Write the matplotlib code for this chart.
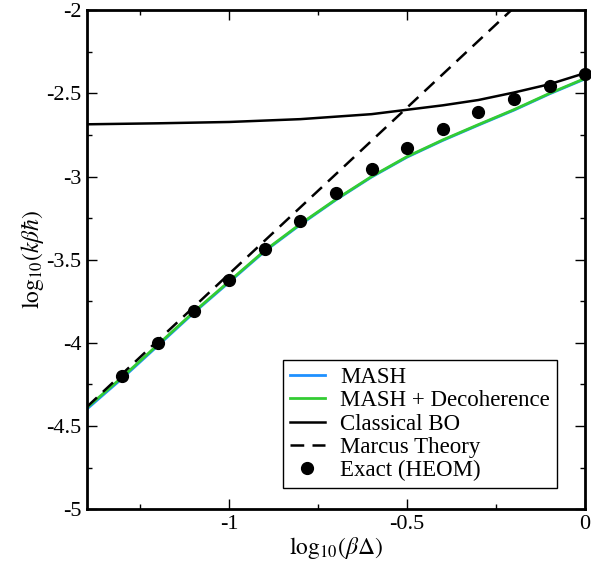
import matplotlib
matplotlib.use("Agg")
import matplotlib.pyplot as plt
from matplotlib.ticker import MultipleLocator, FormatStrFormatter

plt.rcParams['font.family'] = ['Liberation Serif', 'DejaVu Serif']
plt.rcParams['mathtext.fontset'] = 'stix'
plt.rcParams['axes.unicode_minus'] = False

# log10(beta*Delta) grid of the simulated curves
x_curve = [-1.4, -1.3, -1.2, -1.1, -1.0, -0.9, -0.8, -0.7, -0.6, -0.5,
           -0.4, -0.3, -0.2, -0.1, 0.0]
mash_deco = [-4.39, -4.205, -4.01, -3.815, -3.63, -3.445, -3.285, -3.137,
             -3.0, -2.88, -2.78, -2.688, -2.598, -2.50, -2.41]
mash = [-4.398, -4.212, -4.016, -3.82, -3.635, -3.449, -3.289, -3.14,
        -3.003, -2.883, -2.783, -2.691, -2.601, -2.503, -2.413]

x_bo = [-1.4, -1.2, -1.0, -0.8, -0.6, -0.4, -0.3, -0.2, -0.1, 0.0]
classical_bo = [-2.686, -2.68, -2.672, -2.655, -2.625, -2.572, -2.54,
                -2.495, -2.445, -2.378]

x_marcus = [-1.4, -0.15]
marcus = [-4.385, -1.885]

x_heom = [-1.3, -1.2, -1.1, -1.0, -0.9, -0.8, -0.7, -0.6, -0.5, -0.4,
          -0.3, -0.2, -0.1, 0.0]
heom = [-4.2, -4.0, -3.81, -3.624, -3.437, -3.27, -3.10, -2.956, -2.826,
        -2.716, -2.615, -2.535, -2.457, -2.381]

fig = plt.figure(figsize=(5.91, 5.67), dpi=100)
ax = fig.add_axes([0.147, 0.102, 0.843, 0.880])

ax.plot(x_curve, mash, color='#1e90ff', lw=2.0, label='MASH')
ax.plot(x_curve, mash_deco, color='#33cc33', lw=2.0, label='MASH + Decoherence')
ax.plot(x_bo, classical_bo, color='black', lw=1.8, label='Classical BO')
ax.plot(x_marcus, marcus, color='black', lw=1.8, linestyle=(0, (5.5, 3.3)),
        label='Marcus Theory')
ax.plot(x_heom, heom, 'o', color='black', ms=8.5, label='Exact (HEOM)',
        clip_on=False, zorder=5)

ax.set_xlim(-1.4, 0)
ax.set_ylim(-5, -2)
ax.xaxis.set_major_locator(MultipleLocator(0.5))
ax.xaxis.set_minor_locator(MultipleLocator(0.25))
ax.yaxis.set_major_locator(MultipleLocator(0.5))
ax.yaxis.set_minor_locator(MultipleLocator(0.25))
ax.xaxis.set_major_formatter(FormatStrFormatter('%g'))
ax.yaxis.set_major_formatter(FormatStrFormatter('%g'))

ax.tick_params(which='both', direction='in', top=True, right=True,
               labelsize=16, width=1.0, pad=4)
ax.tick_params(which='major', length=7)
ax.tick_params(which='minor', length=3.5)
for s in ax.spines.values():
    s.set_linewidth(2.0)

ax.set_xlabel(r'$\mathrm{log}_{10}(\beta\Delta)$', fontsize=17, labelpad=1)
ax.set_ylabel(r'$\mathrm{log}_{10}(k\beta\hbar)$', fontsize=17, labelpad=0)

leg = ax.legend(loc='lower right', bbox_to_anchor=(0.943, 0.042),
                fontsize=16.5, frameon=True, fancybox=False, framealpha=1,
                edgecolor='black', handlelength=1.55, handletextpad=0.65,
                labelspacing=0.1, borderpad=0.3, borderaxespad=0)
leg.get_frame().set_linewidth(1.0)

fig.savefig('out.png', dpi=100)
